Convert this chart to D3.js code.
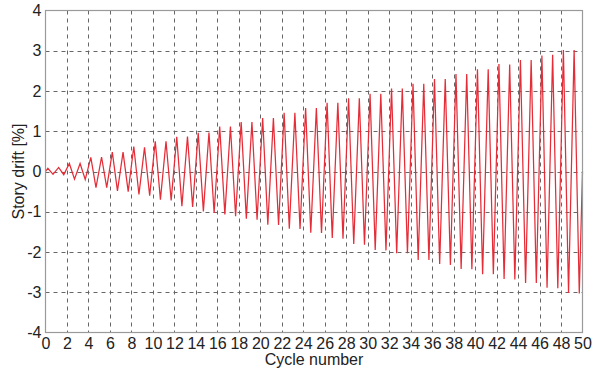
<!DOCTYPE html>
<html>
<head>
<meta charset="utf-8">
<script src="https://cdn.jsdelivr.net/npm/d3@7"></script>
<style>
  html, body { margin: 0; padding: 0; background: #fff; }
  svg { display: block; }
  text { font-family: "Liberation Sans", Arial, sans-serif; fill: #222; }
</style>
</head>
<body>
<svg id="chart" width="592" height="369"></svg>
<script>
// ---- Data ----
const cycleNumbers = [0,1,2,3,4,5,6,7,8,9,10,11,12,13,14,15,16,17,18,19,20,21,22,23,24,
  25,26,27,28,29,30,31,32,33,34,35,36,37,38,39,40,41,42,43,44,45,46,47,48,49];
const peakDrift = [0.08,0.10,0.20,0.20,0.35,0.36,0.48,0.48,0.62,0.60,0.75,0.75,0.86,0.87,0.96,0.97,
  1.12,1.12,1.23,1.23,1.33,1.33,1.46,1.46,1.58,1.58,1.71,1.71,1.82,1.82,1.93,1.93,2.06,2.06,
  2.18,2.18,2.30,2.30,2.42,2.42,2.54,2.54,2.67,2.66,2.77,2.77,2.88,2.90,3.02,3.02];
const troughDrift = [-0.07,-0.08,-0.19,-0.20,-0.40,-0.40,-0.48,-0.50,-0.57,-0.60,-0.70,-0.72,-0.86,-0.88,
  -0.99,-1.03,-1.07,-1.11,-1.17,-1.20,-1.32,-1.33,-1.42,-1.43,-1.52,-1.53,-1.65,-1.67,-1.80,-1.82,
  -1.95,-1.96,-2.03,-2.03,-2.20,-2.20,-2.30,-2.32,-2.42,-2.43,-2.55,-2.55,-2.67,-2.68,-2.77,-2.77,
  -2.89,-2.90,-3.02,-3.03];
const xTicks = [0,2,4,6,8,10,12,14,16,18,20,22,24,26,28,30,32,34,36,38,40,42,44,46,48,50];
const yTicks = [-4,-3,-2,-1,0,1,2,3,4];
const xLabel = "Cycle number";
const yLabel = "Story drift [%]";

// phase of peak / trough inside one cycle
const peakPhase = 0.22, troughPhase = 0.70;

// ---- Layout ----
const svg = d3.select("#chart");
const m = { left: 45.5, right: 582.5, top: 10.5, bottom: 332.5 };

const x = d3.scaleLinear().domain([0, 50]).range([m.left, m.right]);
const y = d3.scaleLinear().domain([-4, 4]).range([m.bottom, m.top]);

// grid
const grid = svg.append("g").attr("stroke", "#666").attr("stroke-width", 1)
  .attr("stroke-dasharray", "4,4");
grid.selectAll("line.v").data(xTicks.filter(d => d > 0 && d < 50)).join("line")
  .attr("x1", d => Math.round(x(d)) + 0.5).attr("x2", d => Math.round(x(d)) + 0.5)
  .attr("y1", m.top).attr("y2", m.bottom);
grid.selectAll("line.h").data(yTicks.filter(d => d > -4 && d < 4)).join("line")
  .attr("y1", d => Math.round(y(d)) + 0.5).attr("y2", d => Math.round(y(d)) + 0.5)
  .attr("x1", m.left).attr("x2", m.right);

// series
const pts = [[0, 0]];
cycleNumbers.forEach((c, i) => {
  pts.push([c + peakPhase, peakDrift[i]]);
  pts.push([c + troughPhase, troughDrift[i]]);
});
pts.push([50, 0]);

svg.append("path").datum(pts)
  .attr("fill", "none")
  .attr("stroke", "#e52d38")
  .attr("stroke-width", 1.25)
  .attr("stroke-linejoin", "miter")
  .attr("d", d3.line().x(d => x(d[0])).y(d => y(d[1])));

// frame
svg.append("rect")
  .attr("x", m.left).attr("y", m.top)
  .attr("width", m.right - m.left).attr("height", m.bottom - m.top)
  .attr("fill", "none").attr("stroke", "#9a9a9a").attr("stroke-width", 1.2);

// axes labels (plain hyphen-minus like the reference)
const fmt = d => String(d);
const xAxis = d3.axisBottom(x).tickValues(xTicks).tickSize(0).tickPadding(5).tickFormat(fmt);
const gx = svg.append("g").attr("transform", `translate(0,${m.bottom})`).call(xAxis);
gx.select(".domain").remove();
gx.selectAll("text").attr("font-size", 16).attr("font-family", "Liberation Sans, Arial, sans-serif").attr("fill", "#222");

const yAxis = d3.axisLeft(y).tickValues(yTicks).tickSize(0).tickPadding(4).tickFormat(fmt);
const gy = svg.append("g").attr("transform", `translate(${m.left},0)`).call(yAxis);
gy.select(".domain").remove();
gy.selectAll("text").attr("font-size", 16).attr("font-family", "Liberation Sans, Arial, sans-serif").attr("fill", "#222");

svg.append("text")
  .attr("x", (m.left + m.right) / 2).attr("y", 365)
  .attr("text-anchor", "middle").attr("font-size", 16)
  .text(xLabel);

svg.append("text")
  .attr("transform", `translate(24,${(m.top + m.bottom) / 2}) rotate(-90)`)
  .attr("text-anchor", "middle").attr("font-size", 16)
  .text(yLabel);
</script>
</body>
</html>
